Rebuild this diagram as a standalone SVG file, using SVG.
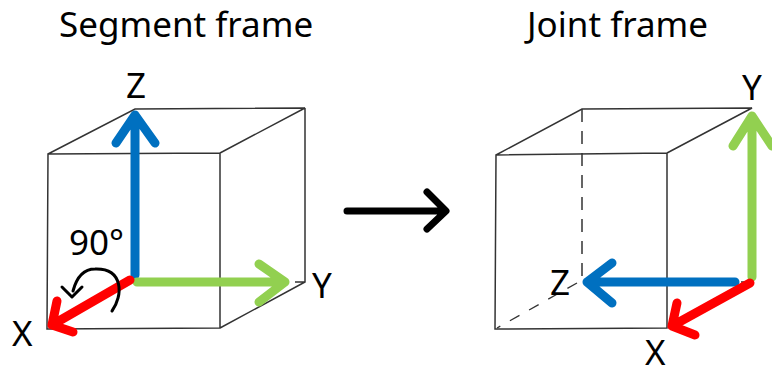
<svg xmlns="http://www.w3.org/2000/svg" width="772" height="367" viewBox="0 0 772 367">
<style>
text{font-family:"Noto Sans","Liberation Sans",sans-serif;fill:#000}
.title{font-size:35px}
.lab{font-size:35px}
.edge{fill:none;stroke:#333;stroke-width:1.5;stroke-linejoin:miter}
.dash{fill:none;stroke:#333;stroke-width:1.5;stroke-dasharray:13 9}
.dash2{fill:none;stroke:#333;stroke-width:1.3;stroke-dasharray:11 11}
.ax{fill:none;stroke-width:9;stroke-linecap:round;stroke-linejoin:round}
.b{stroke:#0070c0}.g{stroke:#92d050}.r{stroke:#ff0000}.k{stroke:#000}
</style>
<rect width="772" height="367" fill="#fff"/>
<text class="title" x="59" y="37">Segment frame</text>
<text class="title" x="527" y="37">Joint frame</text>
<g id="segment-cube">
<path class="edge" d="M48 154L220 153V328L47 329ZM48 154L135 109L305 108L220 153M305 108V282L220 328M295 282H305"/>
</g>
<g id="joint-cube">
<path class="edge" d="M496 155L667 153V328L495 329ZM496 155L582 109L752 108L667 153M741 282H747"/>
<path class="dash" d="M582 109V282"/>
<path class="dash2" d="M577 283L497 328"/>
</g>
<g id="connectors">
<path class="ax b" d="M135 275V115M116 143L135 115L155 143"/>
<path class="ax g" d="M137 282H285M259 264L285 282L259 302"/>
<path class="ax r" d="M130 280L52 325M57 301L52 325L73 332"/>
<path d="M112 311C123 296 124 268 95 269C84 269 77 276 73 291" fill="none" stroke="#000" stroke-width="3" stroke-linecap="round"/>
<path d="M62 287L72 297L82 287" fill="none" stroke="#000" stroke-width="3" stroke-linecap="round" stroke-linejoin="round"/>
<path d="M347 211H445M427 192L446 211L427 229" fill="none" stroke="#000" stroke-width="7" stroke-linecap="round" stroke-linejoin="round"/>
<path class="ax g" d="M752 277V116M733 146L752 116L772 146"/>
<path class="ax b" d="M735 282H587M612 263L587 282L612 303"/>
<path class="ax r" d="M750 283L672 326M677 303L672 326L695 335"/>
</g>
<g id="labels">
<text class="lab" x="126" y="98">Z</text>
<text class="lab" x="312" y="298">Y</text>
<text class="lab" x="12" y="346">X</text>
<text class="lab" x="69" y="255">90°</text>
<text class="lab" x="742" y="100">Y</text>
<text class="lab" x="550" y="295">Z</text>
<text class="lab" x="645" y="365">X</text>
</g>
</svg>
